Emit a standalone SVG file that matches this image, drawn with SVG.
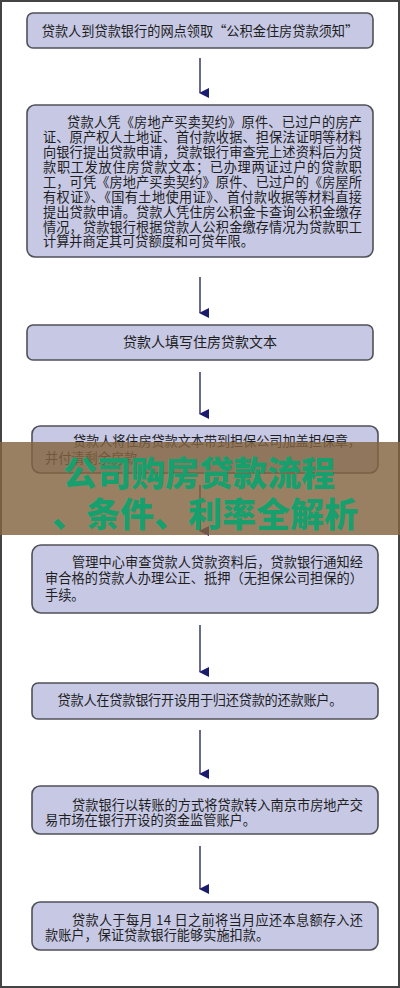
<svg xmlns="http://www.w3.org/2000/svg" width="400" height="988" viewBox="0 0 400 988">
<defs>
<marker id="ah" markerWidth="10" markerHeight="10" refX="5" refY="9" orient="auto" markerUnits="userSpaceOnUse" viewBox="0 0 10 10">
<path d="M0,0 L10,0 L5,10 Z" fill="#1c1c6e"/>
</marker>
<style>
.box{fill:#c6c8e4;stroke:#505058;stroke-width:1.6}
.t{font-family:"Noto Sans CJK SC","Noto Sans",sans-serif;font-size:13.2px;fill:#1e1e1e}
.c{text-anchor:middle}
.arr{stroke:#6a6a8c;stroke-width:2;fill:none;marker-end:url(#ah)}
.big{font-family:"Noto Sans CJK SC",sans-serif;font-size:34px;font-weight:900;fill:#17a06e;text-anchor:middle}
</style>
</defs>
<rect x="0" y="0" width="400" height="988" fill="#ffffff"/>
<rect x="1" y="1" width="398" height="986" fill="none" stroke="#444" stroke-width="2"/>
<g id="connectors">
<line class="arr" x1="200" y1="58" x2="200" y2="93"/>
<line class="arr" x1="200" y1="277" x2="200" y2="313"/>
<line class="arr" x1="200" y1="372" x2="200" y2="414"/>
<line class="arr" x1="200" y1="485" x2="200" y2="531"/>
<line class="arr" x1="200" y1="625" x2="200" y2="672"/>
<line class="arr" x1="200" y1="730" x2="200" y2="774"/>
<line class="arr" x1="200" y1="846" x2="200" y2="889"/>
</g>
<g id="n1">
<rect class="box" x="27" y="13" width="346" height="35" rx="6"/>
<text class="t c" x="200" y="35.5">贷款人到贷款银行的网点领取“公积金住房贷款须知”</text>
</g>
<g id="n2">
<rect class="box" x="27" y="105" width="346" height="152" rx="8"/>
<text class="t" x="67" y="127" textLength="295" lengthAdjust="spacing">贷款人凭《房地产买卖契约》原件、已过户的房产</text>
<text class="t" x="43" y="142" textLength="319" lengthAdjust="spacing">证、原产权人土地证、首付款收据、担保法证明等材料</text>
<text class="t" x="43" y="157" textLength="319" lengthAdjust="spacing">向银行提出贷款申请，贷款银行审查完上述资料后为贷</text>
<text class="t" x="43" y="172" textLength="319" lengthAdjust="spacing">款职工发放住房贷款文本；已办理两证过户的贷款职</text>
<text class="t" x="43" y="187" textLength="319" lengthAdjust="spacing">工，可凭《房地产买卖契约》原件、已过户的《房屋所</text>
<text class="t" x="43" y="202" textLength="319" lengthAdjust="spacing">有权证》、《国有土地使用证》、首付款收据等材料直接</text>
<text class="t" x="43" y="217" textLength="319" lengthAdjust="spacing">提出贷款申请。贷款人凭住房公积金卡查询公积金缴存</text>
<text class="t" x="43" y="232" textLength="319" lengthAdjust="spacing">情况，贷款银行根据贷款人公积金缴存情况为贷款职工</text>
<text class="t" x="43" y="246">计算并商定其可贷额度和可贷年限。</text>
</g>
<g id="n3">
<rect class="box" x="27" y="325" width="346" height="35" rx="6"/>
<text class="t c" x="200" y="347" style="font-size:14px">贷款人填写住房贷款文本</text>
</g>
<g id="n4">
<rect class="box" x="32" y="426" width="346" height="47" rx="8"/>
<text class="t" x="73" y="446" textLength="288" lengthAdjust="spacing">贷款人将住房贷款文本带到担保公司加盖担保章，</text>
<text class="t" x="45" y="463">并付清剩余房款</text>
</g>
<g id="n5">
<rect class="box" x="32" y="545" width="346" height="68" rx="9"/>
<text class="t" x="72" y="567" textLength="291" lengthAdjust="spacing">管理中心审查贷款人贷款资料后，贷款银行通知经</text>
<text class="t" x="45" y="583" textLength="318" lengthAdjust="spacing">审合格的贷款人办理公正、抵押（无担保公司担保的）</text>
<text class="t" x="45" y="600">手续。</text>
</g>
<g id="n6">
<rect class="box" x="32" y="683" width="346" height="36" rx="6"/>
<text class="t c" x="200" y="705" textLength="285" lengthAdjust="spacing">贷款人在贷款银行开设用于归还贷款的还款账户。</text>
</g>
<g id="n7">
<rect class="box" x="32" y="786" width="346" height="48" rx="8"/>
<text class="t" x="72" y="810" textLength="291" lengthAdjust="spacing">贷款银行以转账的方式将贷款转入南京市房地产交</text>
<text class="t" x="45" y="825">易市场在银行开设的资金监管账户。</text>
</g>
<g id="n8">
<rect class="box" x="32" y="902" width="346" height="48" rx="8"/>
<text class="t" x="72" y="925" textLength="291" lengthAdjust="spacing">贷款人于每月 14 日之前将当月应还本息额存入还</text>
<text class="t" x="45" y="940">款账户，保证贷款银行能够实施扣款。</text>
</g>
<g id="banner">
<rect x="0" y="442" width="400" height="93" fill="#82643f" fill-opacity="0.82"/>
<text class="big" x="199" y="486">公司购房贷款流程</text>
<text class="big" x="205" y="527">、条件、利率全解析</text>
</g>
</svg>
